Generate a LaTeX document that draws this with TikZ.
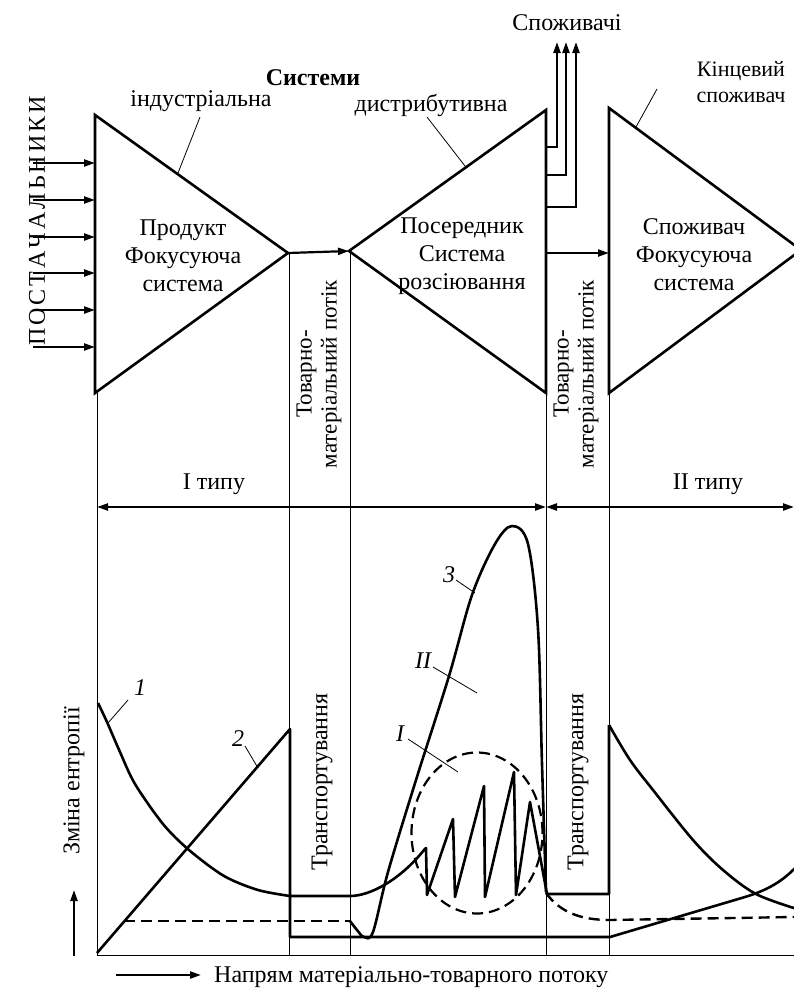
\documentclass[tikz,border=0pt]{standalone}
\usepackage{fontspec}
\setmainfont{Liberation Serif}
\usetikzlibrary{arrows.meta,shapes.geometric}
\begin{document}
\begin{tikzpicture}[x=1pt,y=-1pt,
  thk/.style={line width=2.6pt, line join=miter},
  crv/.style={line width=2.6pt, line join=round},
  thn/.style={line width=0.8pt},
  lead/.style={line width=0.8pt},
  arr/.style={line width=2.2pt,-{Triangle[length=11pt,width=7pt]}},
  dbl/.style={line width=2.2pt,{Triangle[length=11pt,width=7pt]}-{Triangle[length=11pt,width=7pt]}},
  dsh/.style={line width=2.4pt, dash pattern=on 11pt off 6pt},
  lbl/.style={font=\fontsize{24}{28}\selectfont, inner sep=0pt},
  num/.style={font=\fontsize{24}{28}\selectfont\itshape, inner sep=0pt},
]
\useasboundingbox (0,0) rectangle (794,989);

% key points
\coordinate (t1a) at (95,115);  \coordinate (t1b) at (95,393);  \coordinate (t1p) at (288,253);
\coordinate (t2p) at (349,251); \coordinate (t2a) at (546,110); \coordinate (t2b) at (546,393);
\coordinate (t3a) at (609,108); \coordinate (t3b) at (609,393); \coordinate (t3p) at (801,250);

% thin vertical guide lines and base line
\coordinate (v1t) at (97,393);  \coordinate (v1b) at (97,955);
\coordinate (v2t) at (289,253); \coordinate (v2b) at (289,955);
\coordinate (v3t) at (350,251); \coordinate (v3b) at (350,955);
\coordinate (v4t) at (546,393); \coordinate (v4b) at (546,955);
\coordinate (v5t) at (609,393); \coordinate (v5b) at (609,955);
\coordinate (bR) at (794,955);
\draw[thn] (v1t) -- (v1b) (v2t) -- (v2b) (v3t) -- (v3b) (v4t) -- (v4b) (v5t) -- (v5b);
\draw[thn] (v1b) -- (bR);

% triangles
\draw[thk] (t1a) -- (t1p) -- (t1b) -- cycle;
\draw[thk] (t2p) -- (t2a) -- (t2b) -- cycle;
\draw[thk] (t3a) -- (t3p) -- (t3b) -- cycle;

% flows between systems
\draw[arr] (t1p) -- (t2p);
\coordinate (f2s) at (546,253); \coordinate (f2e) at (609,253);
\draw[arr] (f2s) -- (f2e);

% suppliers
\foreach \y [count=\i] in {163,200,237,273,310,347} {
  \coordinate (s\i) at (33,\y); \coordinate (e\i) at (95,\y);
  \draw[arr] (s\i) -- (e\i);
}

% consumers
\coordinate (c1) at (546,147); \coordinate (c1t) at (557,42);
\coordinate (c2) at (546,175); \coordinate (c2t) at (566,42);
\coordinate (c3) at (546,207); \coordinate (c3t) at (576,42);
\draw[arr] (c1) -| (c1t);
\draw[arr] (c2) -| (c2t);
\draw[arr] (c3) -| (c3t);

% type arrows
\coordinate (ty1) at (97,507); \coordinate (ty2) at (546,507); \coordinate (ty3) at (794,507);
\draw[dbl] (ty1) -- (ty2);
\draw[dbl] (ty2) -- (ty3);

% texts top
\node[lbl] (cons) at (567,23) {Споживачі};
\node[lbl,font=\fontsize{24}{28}\selectfont\bfseries] (sys) at (313,78) {Системи};
\node[lbl] (ind) at (201,101) {індустріальна};
\node[lbl] (dis) at (431,105) {дистрибутивна};
\node[lbl,align=center,font=\fontsize{22}{26}\selectfont] (kin) at (741,82) {Кінцевий\\споживач};
\node[lbl,rotate=90] (post) at (37,221) {П\kern3pt О\kern3pt С\kern3pt Т\kern3pt А\kern3pt Ч\kern3pt А\kern3pt Л\kern3pt Ь\kern3pt Н\kern3pt И\kern3pt К\kern3pt И};
\node[lbl,align=center] (p1) at (183,256) {Продукт\\Фокусуюча\\система};
\node[lbl,align=center] (p2) at (462,256) {Посередник\\Система\\розсіювання};
\node[lbl,align=center] (p3) at (694,255) {Споживач\\Фокусуюча\\система};
\node[lbl,rotate=90,align=center,font=\fontsize{23}{25}\selectfont] (tm1) at (319,374) {Товарно-\\матеріальний потік};
\node[lbl,rotate=90,align=center,font=\fontsize{23}{25}\selectfont] (tm2) at (576,374) {Товарно-\\матеріальний потік};
\node[lbl] (typ1) at (214,484) {I типу};
\node[lbl] (typ2) at (708,484) {II типу};

% leaders top
\coordinate (li1) at (200,117); \coordinate (li2) at (178,173);
\coordinate (ld1) at (427,117); \coordinate (ld2) at (465,166);
\coordinate (lk1) at (657,89);  \coordinate (lk2) at (636,127);
\draw[lead] (li1) -- (li2) (ld1) -- (ld2) (lk1) -- (lk2);

% bottom texts
\node[lbl,rotate=90] (tr1) at (322,782) {Транспортування};
\node[lbl,rotate=90] (tr2) at (578,782) {Транспортування};
\node[lbl,rotate=90] (ent) at (74,781) {Зміна ентропії};
\node[lbl,anchor=west] (dir) at (214,977) {Напрям матеріально-товарного потоку};
\coordinate (ua1) at (74,956); \coordinate (ua2) at (74,890);
\draw[arr] (ua1) -- (ua2);
\coordinate (ra1) at (116,975); \coordinate (ra2) at (201,975);
\draw[arr] (ra1) -- (ra2);

% curve 1
\draw[crv] plot[smooth,tension=0.5] coordinates {(98,703) (107,722) (120,752) (135,784) (163,824) (189,850) (224,876) (258,890) (290,896)}
  -- (350,896)
  .. controls (370,896) and (400,880) .. (424,850)
  -- (426,848) -- (427,895) -- (453,819) -- (455,897) -- (484,786) -- (485,897)
  -- (514,772) -- (516,895) -- (530,802) -- (547,894) -- (609,894) -- (609,725);
\draw[crv] plot[smooth,tension=0.55] coordinates {(609,725) (630,760) (653,790) (693,840) (723,870) (756,894) (797,909)};

% curve 2
\draw[crv] (97,953) -- (290,729) -- (290,937) -- (610,937) -- (745,897)
  .. controls (768,890) and (783,881) .. (797,866);

% curve 3
\draw[dsh] (124,921) -- (350,921);
\draw[crv] plot[smooth,tension=0.55] coordinates {(350,921) (357,930) (364,937) (373,932) (388,872) (416,780) (449,676) (472,595) (495,544) (512,526) (528,544) (538,629) (542,764) (546,892)};
\draw[dsh] (546,893) .. controls (560,912) and (580,920) .. (610,920) -- (794,917);

% dashed circle
\node[draw,dash pattern=on 11pt off 6pt,line width=2.2pt,ellipse,minimum width=131pt,minimum height=161pt,inner sep=0pt] (zone) at (477,833) {};

% curve labels
\node[num] (n1) at (140,688) {1};
\node[num] (n2) at (238,739) {2};
\node[num] (n3) at (449,575) {3};
\node[num] (nII) at (423,661) {II};
\node[num] (nI) at (400,734) {I};
\coordinate (a1) at (128,700); \coordinate (b1) at (108,723);
\coordinate (a2) at (245,746); \coordinate (b2) at (258,768);
\coordinate (a3) at (456,580); \coordinate (b3) at (475,593);
\coordinate (a4) at (433,667); \coordinate (b4) at (477,693);
\coordinate (a5) at (408,739); \coordinate (b5) at (458,772);
\draw[lead] (a1) -- (b1) (a2) -- (b2) (a3) -- (b3) (a4) -- (b4) (a5) -- (b5);
\end{tikzpicture}
\end{document}
